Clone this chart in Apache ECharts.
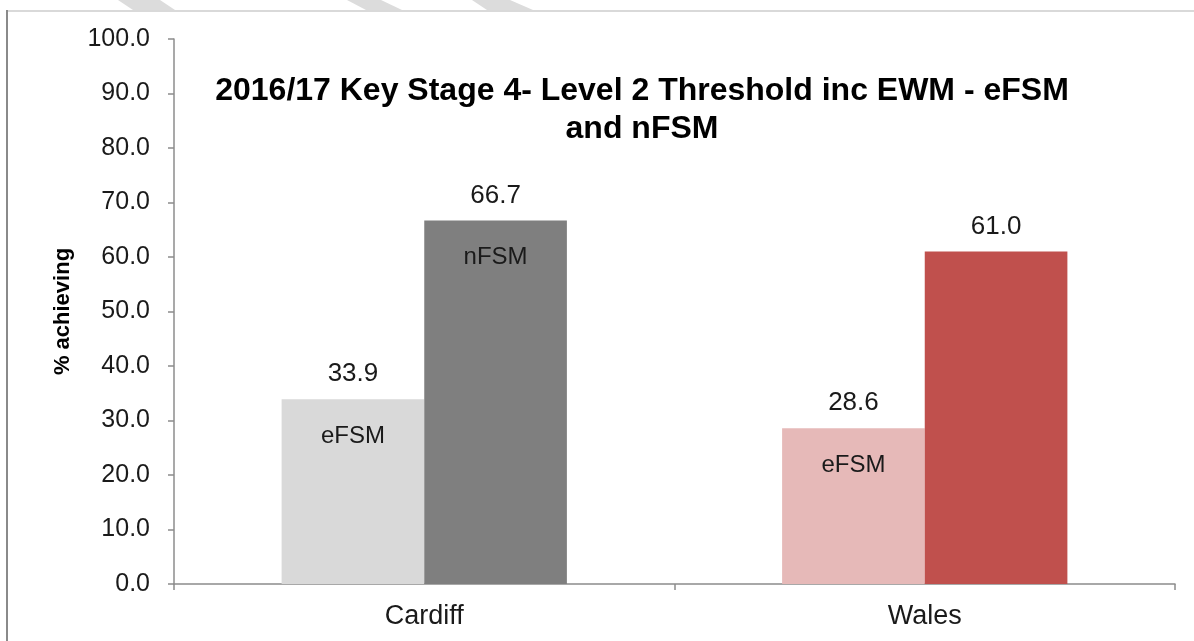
<!DOCTYPE html>
<html>
<head>
<meta charset="utf-8">
<script src="https://cdn.jsdelivr.net/npm/echarts@6/dist/echarts.min.js"></script>
<style>
html,body{margin:0;padding:0;background:#fff;}
#chart{width:1194px;height:641px;}
</style>
</head>
<body>
<div id="chart"></div>
<script>
// data
var categories = ['Cardiff', 'Wales'];
var efsmValues = [33.9, 28.6];
var nfsmValues = [66.7, 61.0];
var efsmInner = ['eFSM', 'eFSM'];
var nfsmInner = ['nFSM', ''];
var efsmColors = ['#d9d9d9', '#e6b9b8'];
var nfsmColors = ['#7f7f7f', '#c0504d'];
var titleText = '2016/17 Key Stage 4- Level 2 Threshold inc EWM - eFSM\nand nFSM';

var font = 'Liberation Sans, Arial, sans-serif';
var chart = echarts.init(document.getElementById('chart'));

function buildData(values, colors) {
	var out = [];
	for (var i = 0; i < values.length; i++) {
		out.push({ value: values[i], itemStyle: { color: colors[i] } });
	}
	return out;
}

// value above the bar, series name inside it
function labelFor(inner) {
	return {
		show: true,
		position: 'insideTop',
		distance: 0,
		offset: [0, -40],
		formatter: function (p) {
			var t = inner[p.dataIndex] || ' ';
			return '{v|' + p.value.toFixed(1) + '}\n{n|' + t + '}';
		},
		rich: {
			v: { fontFamily: font, fontSize: 26, color: '#1a1a1a', lineHeight: 30, align: 'center' },
			n: { fontFamily: font, fontSize: 24, color: '#1a1a1a', lineHeight: 94, align: 'center' }
		}
	};
}

var option = {
	backgroundColor: '#ffffff',
	animation: false,
	grid: { left: 174, right: 19, top: 39, bottom: 57 },
	graphic: [
		{ type: 'polygon', shape: { points: [[118, 0], [160, 0], [175, 10], [133, 10]] }, style: { fill: '#dcdcdc' } },
		{ type: 'polygon', shape: { points: [[347, 0], [381, 0], [402, 10], [366, 10]] }, style: { fill: '#dcdcdc' } },
		{ type: 'polygon', shape: { points: [[472, 0], [510, 0], [533, 10], [487, 10]] }, style: { fill: '#dcdcdc' } },
		{ type: 'line', shape: { x1: 7, y1: 11, x2: 1194, y2: 11 }, style: { stroke: '#d9d9d9', lineWidth: 2 } },
		{ type: 'line', shape: { x1: 7, y1: 10, x2: 7, y2: 641 }, style: { stroke: '#8a8a8a', lineWidth: 2 } },
		{
			type: 'text', x: 642, y: 72,
			style: {
				text: titleText, textAlign: 'center',
				font: 'bold 32px ' + font, fill: '#000', lineHeight: 38
			}
		}
	],
	xAxis: {
		type: 'category',
		data: categories,
		axisLine: { lineStyle: { color: '#8c8c8c', width: 1.5 } },
		axisTick: { show: true, length: 6, lineStyle: { color: '#8c8c8c', width: 1.5 } },
		axisLabel: { fontFamily: font, fontSize: 27, color: '#1a1a1a', margin: 19 }
	},
	yAxis: {
		type: 'value',
		min: 0,
		max: 100,
		interval: 10,
		name: '% achieving',
		nameLocation: 'middle',
		nameRotate: 90,
		nameGap: 100,
		nameTextStyle: { fontFamily: font, fontSize: 22, fontWeight: 'bold', color: '#000' },
		splitLine: { show: false },
		axisLine: { show: true, lineStyle: { color: '#8c8c8c', width: 1.5 } },
		axisTick: { show: true, length: 6, lineStyle: { color: '#8c8c8c', width: 1.5 } },
		axisLabel: {
			fontFamily: font, fontSize: 25, color: '#1a1a1a', margin: 24,
			formatter: function (v) { return v.toFixed(1); }
		}
	},
	series: [
		{
			name: 'eFSM',
			type: 'bar',
			barGap: '0%',
			barCategoryGap: '43%',
			data: buildData(efsmValues, efsmColors),
			label: labelFor(efsmInner)
		},
		{
			name: 'nFSM',
			type: 'bar',
			barGap: '0%',
			barCategoryGap: '43%',
			data: buildData(nfsmValues, nfsmColors),
			label: labelFor(nfsmInner)
		}
	]
};

chart.setOption(option);
</script>
</body>
</html>
